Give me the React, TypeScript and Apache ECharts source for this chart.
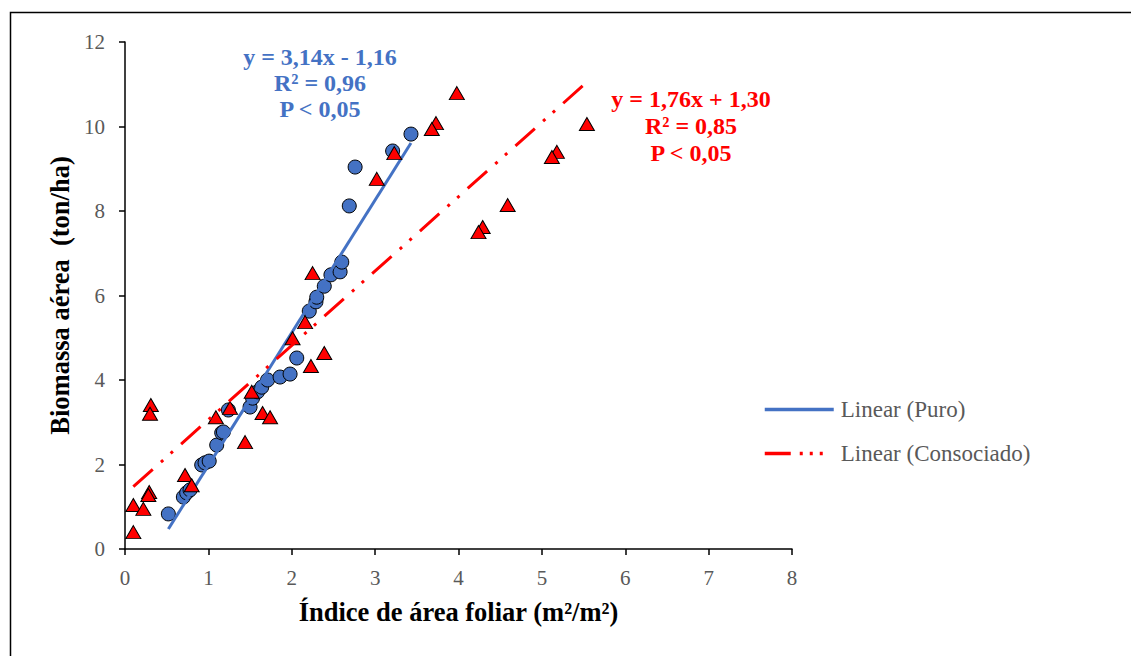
import { useEffect, useRef } from "react";
import * as echarts from "echarts";

// Puro (monocultivo) – círculos azules
const puroX = [0.52, 0.70, 0.74, 0.78, 0.92, 0.96, 1.01, 1.10, 1.16, 1.18, 1.24, 1.50, 1.53, 1.59, 1.64, 1.71, 1.86, 1.98, 2.06, 2.21, 2.29, 2.30, 2.39, 2.47, 2.58, 2.60, 2.69, 2.76, 3.21, 3.43];
const puroY = [0.83, 1.23, 1.33, 1.40, 1.99, 2.04, 2.08, 2.46, 2.75, 2.77, 3.29, 3.36, 3.57, 3.72, 3.83, 4.00, 4.07, 4.14, 4.52, 5.63, 5.85, 5.96, 6.22, 6.49, 6.56, 6.79, 8.12, 9.04, 9.42, 9.82];

// Consociado – triángulos rojos
const consX = [0.31, 0.30, 0.29, 0.28, 0.10, 0.22, 0.10, 0.72, 0.80, 1.09, 1.26, 1.44, 1.65, 1.74, 1.52, 2.25, 2.16, 2.01, 2.39, 2.23, 3.98, 3.73, 3.68, 3.23, 3.02, 5.54, 5.18, 5.12, 4.59, 4.29, 4.24];
const consY = [3.41, 3.20, 1.35, 1.28, 1.04, 0.95, 0.40, 1.75, 1.51, 3.12, 3.34, 2.53, 3.22, 3.12, 3.72, 6.53, 5.37, 4.99, 4.64, 4.33, 10.79, 10.08, 9.94, 9.37, 8.76, 10.06, 9.40, 9.28, 8.14, 7.62, 7.50];

const puroFit = { slope: 3.14, intercept: -1.16 };
const consFit = { slope: 1.76, intercept: 1.3 };

const xTicks = [0, 1, 2, 3, 4, 5, 6, 7, 8];
const yTicks = [0, 2, 4, 6, 8, 10, 12];

const puroLabel = ["y = 3,14x - 1,16", "R² = 0,96", "P < 0,05"];
const consLabel = ["y = 1,76x + 1,30", "R² = 0,85", "P < 0,05"];

const legendNames = ["Linear (Puro)", "Linear (Consociado)"];
const xTitle = "Índice de área foliar (m²/m²)";
const yTitle = "Biomassa aérea  (ton/ha)";

const SERIF = '"Liberation Serif", "Times New Roman", serif';
const BLUE = "#4472C4";
const RED = "#FF0000";

function fitLine(xs: number[], fit: { slope: number; intercept: number }) {
  const lo = Math.min(...xs);
  const hi = Math.max(...xs);
  return [
    [lo, fit.slope * lo + fit.intercept],
    [hi, fit.slope * hi + fit.intercept],
  ];
}

export default function App() {
  const ref = useRef<HTMLDivElement>(null);
  useEffect(() => {
    if (!ref.current) return;
    const chart = echarts.init(ref.current, undefined, { renderer: "svg" });
    const redDash = [26, 11, 3, 10, 3, 11];
    chart.setOption({
      animation: false,
      backgroundColor: "#fff",
      grid: { left: 125, right: 339, top: 42, bottom: 107 },
      xAxis: {
        type: "value",
        min: xTicks[0],
        max: xTicks[xTicks.length - 1],
        interval: 1,
        name: xTitle,
        nameLocation: "middle",
        nameGap: 49,
        nameTextStyle: { fontFamily: SERIF, fontWeight: "bold", fontSize: 26.5, color: "#000" },
        axisLine: { show: true, onZero: false, lineStyle: { color: "#000", width: 1.5 } },
        axisTick: { show: true, inside: false, length: 6, lineStyle: { color: "#000", width: 1.5 } },
        axisLabel: { color: "#595959", fontFamily: SERIF, fontSize: 21, margin: 18 },
        splitLine: { show: false },
      },
      yAxis: {
        type: "value",
        min: yTicks[0],
        max: yTicks[yTicks.length - 1],
        interval: 2,
        name: yTitle,
        nameLocation: "middle",
        nameGap: 51,
        nameTextStyle: { fontFamily: SERIF, fontWeight: "bold", fontSize: 26.5, color: "#000" },
        axisLine: { show: true, onZero: false, lineStyle: { color: "#000", width: 1.5 } },
        axisTick: { show: true, inside: false, length: 6, lineStyle: { color: "#000", width: 1.5 } },
        axisLabel: { color: "#595959", fontFamily: SERIF, fontSize: 21, margin: 20 },
        splitLine: { show: false },
      },
      legend: {
        orient: "vertical",
        left: 758,
        top: 393,
        itemWidth: 69,
        itemHeight: 14,
        itemGap: 21,
        textStyle: { fontFamily: SERIF, fontSize: 23, color: "#595959", padding: [0, 0, 0, 2] },
        itemStyle: { opacity: 0, borderWidth: 0 },
        data: [
          { name: legendNames[0], lineStyle: { width: 3.5, color: BLUE } },
          { name: legendNames[1], lineStyle: { width: 3.5, color: RED, type: [26, 9, 3, 7, 3, 7, 3, 30] } },
        ],
      },
      graphic: [
        {
          type: "rect",
          left: 8,
          top: 10,
          shape: { x: 0, y: 0, width: 1300, height: 800 },
          style: { fill: "none", stroke: "#000", lineWidth: 1.5 },
          silent: true,
          z: -10,
        },
        {
          type: "text",
          x: 320,
          y: 44,
          style: {
            text: puroLabel.join("\n"),
            font: `bold 24px ${SERIF}`,
            fill: BLUE,
            align: "center",
            verticalAlign: "top",
            lineHeight: 26,
          },
        },
        {
          type: "text",
          x: 691,
          y: 85,
          style: {
            text: consLabel.join("\n"),
            font: `bold 24px ${SERIF}`,
            fill: RED,
            align: "center",
            verticalAlign: "top",
            lineHeight: 27,
          },
        },
      ],
      series: [
        {
          name: "Puro",
          type: "scatter",
          symbol: "circle",
          symbolSize: 14,
          itemStyle: { color: BLUE, borderColor: "#000", borderWidth: 1, opacity: 1 },
          data: puroX.map((x, i) => [x, puroY[i]]),
          z: 2,
        },
        {
          name: legendNames[0],
          type: "line",
          symbol: "none",
          lineStyle: { color: BLUE, width: 3 },
          itemStyle: { color: BLUE },
          data: fitLine(puroX, puroFit),
          z: 3,
        },
        {
          name: "Consociado",
          type: "scatter",
          symbol: "triangle",
          symbolSize: [15, 13],
          itemStyle: { color: RED, borderColor: "#000", borderWidth: 1, opacity: 1 },
          data: consX.map((x, i) => [x, consY[i]]),
          z: 4,
        },
        {
          name: legendNames[1],
          type: "line",
          symbol: "none",
          lineStyle: { color: RED, width: 3, type: redDash, cap: "butt" },
          itemStyle: { color: RED },
          data: fitLine(consX, consFit),
          z: 5,
        },
      ],
    });
    return () => chart.dispose();
  }, []);
  return (
    <div
      ref={ref}
      style={{ position: "fixed", left: 0, top: 0, width: 1131, height: 656, background: "#fff" }}
    />
  );
}
